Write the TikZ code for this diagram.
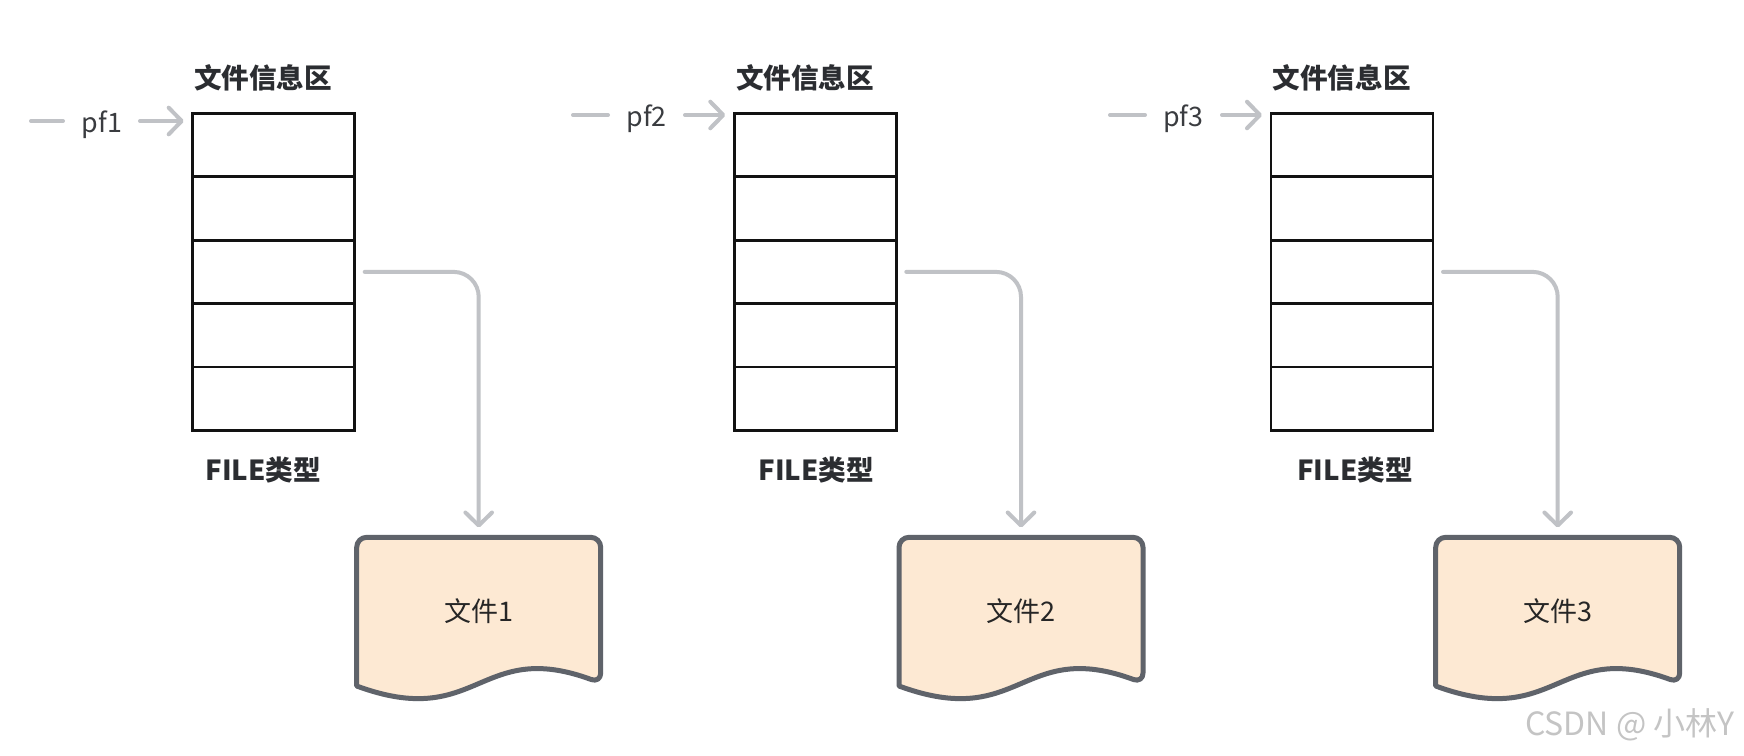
\documentclass[tikz,border=0pt]{standalone}
\usepackage{fontspec}
\setmainfont{Noto Sans CJK SC}
\usetikzlibrary{arrows.meta}
\definecolor{conngray}{HTML}{C0C2C6}
\definecolor{docline}{HTML}{5F636A}
\definecolor{docfill}{HTML}{FDE9D3}
\definecolor{labeltext}{HTML}{2B2D31}
\definecolor{pftext}{HTML}{3A3C40}
\definecolor{wmtext}{HTML}{C4C4C4}
\tikzset{
  cell/.style={draw=black!93, line width=1.4pt, minimum width=81pt, minimum height=31.72pt, inner sep=0pt},
  boldlabel/.style={font=\bfseries\fontsize{13.8pt}{16pt}\selectfont, text=labeltext, inner sep=0pt},
  pflabel/.style={font=\fontsize{13.4pt}{15pt}\selectfont, text=pftext, inner sep=0pt},
  doctext/.style={font=\fontsize{13.5pt}{16pt}\selectfont, text=black!85, inner sep=0pt, minimum width=122pt, minimum height=74.5pt},
  docshape/.style={draw=docline, fill=docfill, line width=2.5pt, line join=round},
  conn/.style={draw=conngray, line width=2pt, line cap=round},
  tip/.style={-{Straight Barb[length=6.5pt,width=13.3pt,line cap=round,line join=round]}},
}
\begin{document}
\begin{tikzpicture}[x=0.5pt,y=-0.5pt]
\useasboundingbox[fill=white] (0,0) rectangle (1744,755);
\foreach \i/\bl/\tx/\fx/\dy/\da/\db/\px/\aa/\dl in {
  1/192.7/263/263.3/121/31/63/102/140/356.7,
  2/734.3/805/816.3/115/573/608/646.7/685/899,
  3/1271/1341.7/1355/115/1110/1145/1183.3/1222/1435.7}{
  % title and type label
  \node[boldlabel] (t\i) at (\tx,78) {文件信息区};
  \node[boldlabel] (f\i) at (\fx,470) {FILE类型};
  % cells
  \foreach \k in {1,...,5}{
    \node[cell] (r\i\k) at ({\bl+81},{113.3+63.44*(\k-0.5)}) {};
  }
  % pointer label
  \coordinate (s\i) at (\da,\dy);
  \coordinate (e\i) at (\db,\dy);
  \coordinate (a\i) at (\aa,\dy);
  \node[pflabel] (p\i) at (\px,{\dy+4}) {pf\i};
  \draw[conn] (s\i) -- (e\i);
  \draw[conn,tip,shorten >=3.8pt] (a\i) -- (a\i -| r\i1.west);
  % document
  \draw[docshape] (\dl,686) [rounded corners=5pt] -- (\dl,537.3) -- ({\dl+244},537.3) -- ({\dl+244},683)
     [sharp corners] .. controls ({\dl+122},638) and ({\dl+122},731) .. (\dl,686) -- cycle;
  \node[doctext] (d\i) at ({\dl+122},611.6) {文件\i};
  % connector
  \draw[conn,tip,rounded corners=12.5pt,shorten >=4.6pt] ([xshift=4.3pt]r\i3.east) -| (d\i.north);
}
\node[font=\fontsize{16pt}{18pt}\selectfont, text=wmtext, inner sep=0pt] (wm) at (1630,725) {CSDN @ 小林Y};
\end{tikzpicture}
\end{document}
